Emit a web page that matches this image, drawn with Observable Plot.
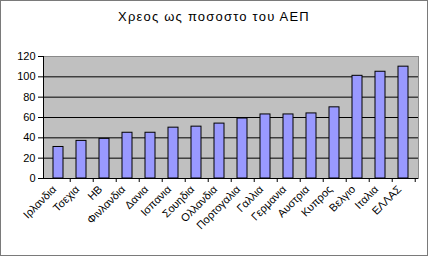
<!DOCTYPE html>
<html><head><meta charset="utf-8">
<script src="https://cdn.jsdelivr.net/npm/d3@7"></script>
<script src="https://cdn.jsdelivr.net/npm/@observablehq/plot@0.6"></script>
<style>
html,body{margin:0;padding:0;background:#fff;}
#box{width:428px;height:256px;box-sizing:border-box;border:1px solid #7a7a7a;position:relative;overflow:hidden;font-family:"Liberation Sans",Arial,sans-serif;}
#title{height:40px;text-align:center;font-size:13px;letter-spacing:1.2px;line-height:13px;padding-top:9px;box-sizing:border-box;color:#000;}
svg{display:block;}
</style></head>
<body><div id="box"><div id="title">Χρεος ως ποσοστο του ΑΕΠ</div></div>
<script>
const countries = ["Ιρλανδια","Τσεχια","ΗΒ","Φινλανδια","Δανια","Ισπανια","Σουηδια","Ολλανδια","Πορτογαλια","Γαλλια","Γερμανια","Αυστρια","Κυπρος","Βελγιο","Ιταλια","ΕΛΛΑΣ"];
const debt = [31, 37, 39, 45, 45, 50, 51, 54, 59, 63, 63, 64, 70, 101, 105, 110];
const yTicks = [0, 20, 40, 60, 80, 100, 120];
const gridTicks = [20, 40, 60, 80, 100];

const data = countries.map((c, i) => ({country: c, value: debt[i]}));
const W = 426, H = 214, mL = 42, mR = 9, mT = 15, mB = 77;
const step = (W - mL - mR) / countries.length;

const chart = Plot.plot({
  width: W, height: H,
  marginLeft: mL, marginRight: mR, marginTop: mT, marginBottom: mB,
  style: {fontFamily: '"Liberation Sans", Arial, sans-serif', fontSize: "11px", color: "#000", background: "transparent"},
  x: {domain: countries, paddingInner: 0.58, paddingOuter: 0.29, label: null},
  y: {domain: [0, 120], ticks: yTicks, label: null},
  marks: [
    Plot.frame({fill: "#c0c0c0", stroke: "#8a8a8a"}),
    Plot.ruleY(gridTicks, {stroke: "#000", strokeWidth: 1}),
    Plot.barY(data, {x: "country", y: "value", fill: "#9999ff", stroke: "#000", strokeWidth: 1}),
    Plot.ruleY([0], {stroke: "#000"}),
    Plot.frame({anchor: "left", stroke: "#000"}),
    Plot.axisY({ticks: yTicks, tickSize: 5, tickPadding: 3, fontSize: 11}),
    Plot.axisX({tickSize: 4, dx: step / 2, tickFormat: () => ""}),
    Plot.axisX({tickSize: 0, tickRotate: -45, tickPadding: 9, dx: -4, fontSize: 11})
  ]
});
document.getElementById("box").appendChild(chart);
</script></body></html>
